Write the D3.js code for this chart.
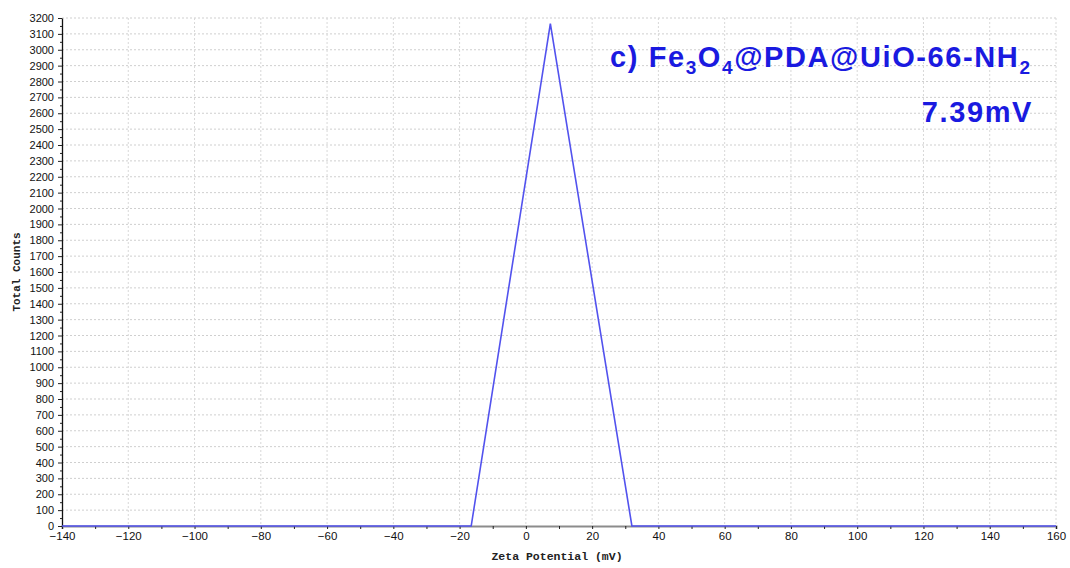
<!DOCTYPE html>
<html>
<head>
<meta charset="utf-8">
<script src="https://cdn.jsdelivr.net/npm/d3@7"></script>
<style>
  html, body { margin: 0; padding: 0; background: #fff; }
  svg { display: block; }
</style>
</head>
<body>
<svg id="chart" width="1070" height="568"></svg>
<script>
// ---- data ----
const zetaMv = [-140, -16.5, 7.39, 32, 160];
const totalCounts = [0, 0, 3165, 0, 0];
const xTicks = [-140, -120, -100, -80, -60, -40, -20, 0, 20, 40, 60, 80, 100, 120, 140, 160];
const yTicks = d3.range(0, 3201, 100);
const sampleLabel = ["c) Fe", "3", "O", "4", "@PDA@UiO-66-NH", "2"];
const peakLabel = "7.39mV";

const svg = d3.select("#chart");
const margin = { top: 18, right: 14, bottom: 42, left: 62 };
const W = 1070, H = 568;
const iw = W - margin.left - margin.right;
const ih = H - margin.top - margin.bottom;

const x = d3.scaleLinear().domain([-140, 160]).range([0, iw]);
const y = d3.scaleLinear().domain([0, 3200]).range([ih, 0]);

const g = svg.append("g").attr("transform", `translate(${margin.left},${margin.top})`);

// grid
g.append("g")
  .selectAll("line")
  .data(yTicks.filter(d => d > 0))
  .join("line")
  .attr("x1", 0).attr("x2", iw)
  .attr("y1", d => y(d)).attr("y2", d => y(d))
  .attr("stroke", "#cfcfcf").attr("stroke-dasharray", "2,2");

g.append("g")
  .selectAll("line")
  .data(xTicks.filter(d => d > -140))
  .join("line")
  .attr("x1", d => x(d)).attr("x2", d => x(d))
  .attr("y1", 0).attr("y2", ih)
  .attr("stroke", "#d8d8d8").attr("stroke-dasharray", "2,2");

// x axis
g.append("g")
  .attr("transform", `translate(0,${ih})`)
  .call(d3.axisBottom(x).tickValues(d3.range(-140, 161, 10)).tickSize(3).tickFormat(""))
  .call(s => s.select(".domain").attr("stroke", "#8c8c8c").attr("stroke-width", 2))
  .call(s => s.selectAll(".tick line").attr("stroke", "#222"));

g.append("g")
  .attr("transform", `translate(0,${ih})`)
  .call(d3.axisBottom(x).tickValues(xTicks).tickSize(0).tickPadding(6)
    .tickFormat(d => String(d).replace("-", "\u2212")))
  .call(s => s.select(".domain").remove())
  .call(s => s.selectAll("text")
    .attr("fill", "#111").attr("font-family", "Liberation Sans, Arial, sans-serif")
    .attr("font-size", 11.5));

// y axis (major every 100, minor every 50)
g.append("g")
  .call(d3.axisLeft(y).tickValues(d3.range(50, 3200, 100)).tickSize(2).tickFormat(""))
  .call(s => s.select(".domain").remove())
  .call(s => s.selectAll(".tick line").attr("stroke", "#222"));

g.append("g")
  .call(d3.axisLeft(y).tickValues(yTicks).tickSize(4).tickPadding(4).tickSizeOuter(0)
    .tickFormat(d3.format("d")))
  .call(s => s.select(".domain").attr("stroke", "#111").attr("stroke-width", 1.3))
  .call(s => s.selectAll(".tick line").attr("stroke", "#222"))
  .call(s => s.selectAll("text")
    .attr("fill", "#111").attr("font-family", "Liberation Sans, Arial, sans-serif")
    .attr("font-size", 11));

// series
const pts = zetaMv.map((v, i) => ({ v, c: totalCounts[i] }));
g.append("path")
  .datum(pts)
  .attr("d", d3.line().x(d => x(d.v)).y(d => y(d.c)))
  .attr("fill", "none")
  .attr("stroke", "#5252ee")
  .attr("stroke-width", 1.6);

// axis titles
svg.append("text")
  .attr("x", 557).attr("y", 560)
  .attr("text-anchor", "middle")
  .attr("font-family", "Liberation Mono, DejaVu Sans Mono, monospace")
  .attr("font-weight", "bold").attr("font-size", 11.5).attr("fill", "#222")
  .text("Zeta Potential (mV)");

svg.append("text")
  .attr("transform", `translate(20,${margin.top + ih / 2}) rotate(-90)`)
  .attr("text-anchor", "middle")
  .attr("font-family", "Liberation Mono, DejaVu Sans Mono, monospace")
  .attr("font-weight", "bold").attr("font-size", 11).attr("fill", "#222")
  .text("Total Counts");

// annotation
const ann = svg.append("text")
  .attr("x", 610).attr("y", 67)
  .attr("font-family", "Liberation Sans, Arial, sans-serif")
  .attr("font-weight", "bold").attr("font-size", 29).attr("fill", "#1a1ae0")
  .attr("letter-spacing", 1.6);
sampleLabel.forEach((t, i) => {
  const sub = i % 2 === 1;
  ann.append("tspan")
    .attr("font-size", sub ? 19 : 29)
    .attr("dy", sub ? 7 : (i > 0 ? -7 : 0))
    .text(t);
});

svg.append("text")
  .attr("x", 1033).attr("y", 122)
  .attr("text-anchor", "end")
  .attr("font-family", "Liberation Sans, Arial, sans-serif")
  .attr("font-weight", "bold").attr("font-size", 29).attr("fill", "#1a1ae0")
  .attr("letter-spacing", 1.6)
  .text(peakLabel);
</script>
</body>
</html>
